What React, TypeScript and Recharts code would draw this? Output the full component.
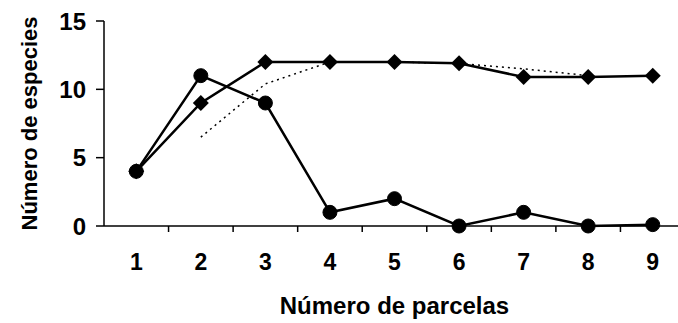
import { LineChart, Line, XAxis, YAxis } from "recharts";

const parcelas = [1, 2, 3, 4, 5, 6, 7, 8, 9];
const especiesRombos = [4, 9, 12, 12, 12, 11.9, 10.9, 10.9, 11];
const especiesCirculos = [4, 11, 9, 1, 2, 0, 1, 0, 0.1];
const tendencia: (number | null)[] = [null, 6.5, 10.4, 12, 12, 11.9, 11.5, 11, null];
const yTicks = [0, 5, 10, 15];

const data = parcelas.map((p, i) => ({
  x: p,
  rombos: especiesRombos[i],
  circulos: especiesCirculos[i],
  tendencia: tendencia[i],
}));

const W = 690;
const H = 323;
const margin = { top: 21, right: 5, bottom: 7, left: 0 };
const yAxisW = 104;
const xAxisH = 90;
const step = (W - margin.left - margin.right - yAxisW) / parcelas.length;
const font = "'Liberation Sans', Arial, sans-serif";

const Diamond = (props: any) => {
  const { cx, cy, index } = props;
  if (cx == null || cy == null) return <g key={`d-${index}`} />;
  const s = 8;
  return (
    <path
      key={`d-${index}`}
      d={`M${cx},${cy - s}L${cx + s},${cy}L${cx},${cy + s}L${cx - s},${cy}Z`}
      fill="#000"
    />
  );
};

const XTick = (props: any) => {
  const { x, y, payload, index } = props;
  return (
    <g>
      <text
        x={x}
        y={y + 44}
        textAnchor="middle"
        fontSize={23}
        fontWeight="bold"
        fontFamily={font}
        fill="#000"
      >
        {payload.value}
      </text>
      {index < parcelas.length - 1 && (
        <line x1={x + step / 2} x2={x + step / 2} y1={y} y2={y + 6} stroke="#000" strokeWidth={1.5} />
      )}
    </g>
  );
};

export default function App() {
  return (
    <div style={{ position: "absolute", left: 0, top: 0, width: 678, height: H, overflow: "hidden", background: "#fff" }}>
      <LineChart width={W} height={H} data={data} margin={margin}>
        <XAxis
          dataKey="x"
          type="number"
          domain={[0.5, 9.5]}
          ticks={parcelas}
          height={xAxisH}
          tickSize={0}
          tickMargin={0}
          tickLine={false}
          tick={<XTick />}
          axisLine={{ stroke: "#000", strokeWidth: 1.5 }}
          label={{
            value: "Número de parcelas",
            position: "insideBottom",
            offset: 2,
            fontSize: 24,
            fontWeight: "bold",
            fontFamily: font,
            fill: "#000",
          }}
        />
        <YAxis
          domain={[0, 15]}
          ticks={yTicks}
          width={yAxisW}
          tickSize={8}
          tickMargin={10}
          tick={{ fontSize: 24, fontWeight: "bold", fontFamily: font, fill: "#000" }}
          tickLine={{ stroke: "#000", strokeWidth: 1.5 }}
          axisLine={{ stroke: "#000", strokeWidth: 1.5 }}
          label={{
            value: "Número de especies",
            angle: -90,
            position: "insideLeft",
            offset: 29,
            style: { textAnchor: "middle" },
            fontSize: 22,
            fontWeight: "bold",
            fontFamily: font,
            fill: "#000",
          }}
        />
        <Line
          dataKey="tendencia"
          stroke="#000"
          strokeWidth={1.5}
          strokeDasharray="2 4"
          dot={false}
          connectNulls={false}
          isAnimationActive={false}
        />
        <Line
          dataKey="circulos"
          stroke="#000"
          strokeWidth={2.5}
          dot={{ r: 7, fill: "#000", stroke: "#000", strokeWidth: 1 }}
          isAnimationActive={false}
        />
        <Line
          dataKey="rombos"
          stroke="#000"
          strokeWidth={2.5}
          dot={<Diamond />}
          isAnimationActive={false}
        />
      </LineChart>
    </div>
  );
}
